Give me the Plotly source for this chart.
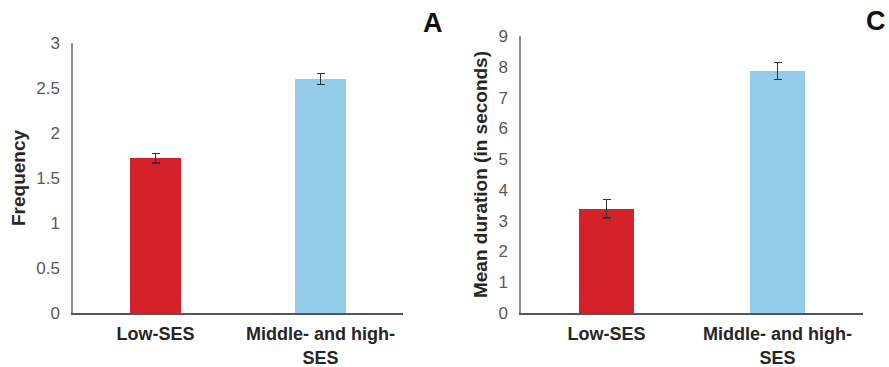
import plotly.graph_objects as go

categories = ["Low-SES", "Middle- and high-<br>SES"]
freq_values = [1.72, 2.60]
freq_err = [0.055, 0.062]
dur_values = [3.38, 7.86]
dur_err = [0.30, 0.28]
bar_colors = ["#d52129", "#93cdea"]
freq_ticks = [0, 0.5, 1, 1.5, 2, 2.5, 3]
freq_ticktext = ["0", "0.5", "1", "1.5", "2", "2.5", "3"]
dur_ticks = list(range(0, 10))

W, H = 889, 367
FONT = "Liberation Sans, Arial, sans-serif"

fig = go.Figure()
fig.add_trace(go.Bar(
    x=[0, 1], y=freq_values, marker_color=bar_colors, width=0.31,
    marker_line_width=0,
    error_y=dict(type="data", array=freq_err, color="#333333", thickness=1.5, width=4),
    xaxis="x", yaxis="y", showlegend=False))
fig.add_trace(go.Bar(
    x=[0, 1], y=dur_values, marker_color=bar_colors, width=0.316,
    marker_line_width=0,
    error_y=dict(type="data", array=dur_err, color="#333333", thickness=1.5, width=4),
    xaxis="x2", yaxis="y2", showlegend=False))

def px_x(p):
    return p / W

def px_y(p):
    return 1 - p / H

tickfont = dict(family=FONT, size=17, color="#595959")
catfont = dict(family=FONT, size=18, color="#262626")
titlefont = dict(family=FONT, size=19, color="#262626")

cat_text = ["<b>" + c.replace("<br>", "</b><br><b>") + "</b>" for c in categories]

common_x = dict(tickmode="array", tickvals=[0, 1], ticktext=cat_text,
                range=[-0.5, 1.5], showline=True, linecolor="#555555", linewidth=1.5,
                showgrid=False, zeroline=False, ticks="", tickfont=catfont,
                ticklabelstandoff=4, fixedrange=True, automargin=False)
common_y = dict(showline=True, linecolor="#8c8c8c", linewidth=1.5, showgrid=False,
                zeroline=False, ticks="", tickfont=tickfont, ticklabelstandoff=8,
                automargin=False)

fig.update_layout(
    width=W, height=H, margin=dict(l=0, r=0, t=0, b=0),
    paper_bgcolor="white", plot_bgcolor="white",
    bargap=0,
    xaxis=dict(domain=[px_x(73), px_x(403)], anchor="y", **common_x),
    yaxis=dict(domain=[px_y(313), px_y(43)], anchor="x", range=[0, 3],
               tickmode="array", tickvals=freq_ticks, ticktext=freq_ticktext,
               title=dict(text="<b>Frequency</b>", font=titlefont, standoff=6), **common_y),
    xaxis2=dict(domain=[px_x(521), px_x(863)], anchor="y2", **common_x),
    yaxis2=dict(domain=[px_y(313), px_y(36)], anchor="x2", range=[0, 9],
                tickmode="array", tickvals=dur_ticks,
                title=dict(text="<b>Mean duration (in seconds)</b>", font=titlefont, standoff=6), **common_y),
    annotations=[
        dict(text="<b>A</b>", x=px_x(433), y=px_y(6), xref="paper", yref="paper",
             xanchor="center", yanchor="top",
             showarrow=False, font=dict(family=FONT, size=27, color="#111111")),
        dict(text="<b>C</b>", x=px_x(876), y=px_y(4), xref="paper", yref="paper",
             xanchor="center", yanchor="top",
             showarrow=False, font=dict(family=FONT, size=27, color="#111111")),
    ],
)

fig.write_html("out.html")
